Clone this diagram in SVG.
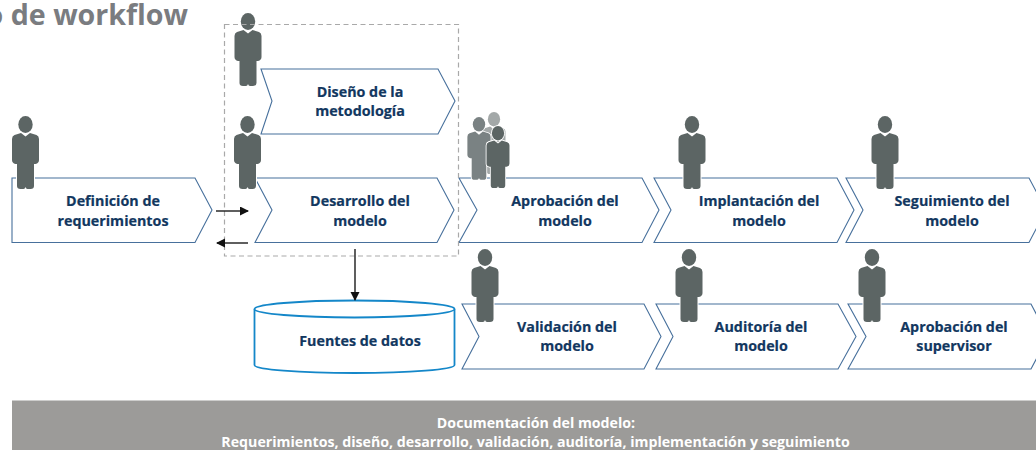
<svg xmlns="http://www.w3.org/2000/svg" xmlns:xlink="http://www.w3.org/1999/xlink" width="1036" height="450" viewBox="0 0 1036 450">
<style>
text{font-family:"Open Sans","Noto Sans","Liberation Sans",sans-serif;font-weight:700}
.l{font-size:14.300px;fill:#12375f;text-anchor:middle;stroke:#12375f;stroke-width:.2}
.c{fill:#fff;stroke:#47709c;stroke-width:1.100}
.p{stroke:#fff;stroke-width:2;paint-order:stroke}
.a{stroke:#1a1a1a;stroke-width:1.400;fill:none}
.b{font-size:14.200px;fill:#fff;text-anchor:middle}
</style>
<defs>
<g id="person">
<ellipse cx="0" cy="8.500" rx="7.200" ry="8.500"/>
<path d="M-4.500,17 L0,20.500 L4.500,17 L11,19 Q13.500,20 13.500,23 L13.500,44 Q13.500,47 10,48 L8.500,48 L8.500,70 Q8.500,73 5,73 L2,73 Q0.500,73 0,71 Q-0.500,73 -2,73 L-5,73 Q-8.500,73 -8.500,70 L-8.500,48 L-10,48 Q-13.500,47 -13.500,44 L-13.500,23 Q-13.500,20 -11,19 Z"/>
</g>
<marker id="ah" markerWidth="10" markerHeight="10" refX="8" refY="4.500" orient="auto" markerUnits="userSpaceOnUse"><path d="M0,0 L9,4.500 L0,9 Z" fill="#111"/></marker>
</defs>
<rect width="1036" height="450" fill="#fff"/>
<text x="188" y="24.500" text-anchor="end" font-size="28.600" fill="#7a7c80">o de workflow</text>

<g id="node-definicion"><path class="c" d="M12,178 H195 L212,210 L195,242.500 H12 Z"/><text class="l" x="113" y="206">Definición de</text><text class="l" x="113" y="226">requerimientos</text></g>
<g id="node-diseno"><path class="c" d="M261,69 H438 L455,101 L438,134 H261 L272,101 Z"/><text class="l" x="360" y="97">Diseño de la</text><text class="l" x="360" y="116">metodología</text></g>
<g id="node-desarrollo"><path class="c" d="M255,178 H437 L454,210 L437,242.500 H255 L272,210 Z"/><text class="l" x="360" y="206">Desarrollo del</text><text class="l" x="360" y="226">modelo</text></g>
<g id="node-aprobacion"><path class="c" d="M459,178 H642 L659,210 L642,242.500 H459 L477,210 Z"/><text class="l" x="565" y="206">Aprobación del</text><text class="l" x="565" y="226">modelo</text></g>
<g id="node-implantacion"><path class="c" d="M654,178 H837 L854,210 L837,242.500 H654 L671,210 Z"/><text class="l" x="759" y="206">Implantación del</text><text class="l" x="759" y="226">modelo</text></g>
<g id="node-seguimiento"><path class="c" d="M846,178 H1029 L1046,210 L1029,242.500 H846 L863,210 Z"/><text class="l" x="952" y="206">Seguimiento del</text><text class="l" x="952" y="226">modelo</text></g>
<g id="node-validacion"><path class="c" d="M462,304 H644 L661,336.500 L644,369 H462 L479,336.500 Z"/><text class="l" x="567" y="332">Validación del</text><text class="l" x="567" y="351">modelo</text></g>
<g id="node-auditoria"><path class="c" d="M656,304 H838 L856,336.500 L838,369 H656 L673,336.500 Z"/><text class="l" x="761" y="332">Auditoría del</text><text class="l" x="761" y="351">modelo</text></g>
<g id="node-supervisor"><path class="c" d="M848,304 H1031 L1048,336.500 L1031,369 H848 L866,336.500 Z"/><text class="l" x="954" y="332">Aprobación del</text><text class="l" x="954" y="351">supervisor</text></g>

<g id="node-fuentes">
<path d="M254.500,309 V365 C254.500,369.500 299,373 354.500,373 C410,373 454.500,369.500 454.500,365 V309" fill="#fff" stroke="#1487c9" stroke-width="1.800"/>
<ellipse cx="354.500" cy="309" rx="100" ry="8.500" fill="#fff" stroke="#1487c9" stroke-width="1.800"/>
<text class="l" x="360" y="346">Fuentes de datos</text>
</g>

<g id="persons" fill="#5c6564">
<use class="p" xlink:href="#person" href="#person" transform="translate(25.500,116)"/>
<use class="p" xlink:href="#person" href="#person" transform="translate(248,13)"/>
<use class="p" xlink:href="#person" href="#person" transform="translate(247.500,116)"/>
<use class="p" xlink:href="#person" href="#person" transform="translate(692,116)"/>
<use class="p" xlink:href="#person" href="#person" transform="translate(885,116)"/>
<use class="p" xlink:href="#person" href="#person" transform="translate(485,249)"/>
<use class="p" xlink:href="#person" href="#person" transform="translate(689,249)"/>
<use class="p" xlink:href="#person" href="#person" transform="translate(872,249)"/>
<use class="p" xlink:href="#person" href="#person" transform="translate(494,112) scale(.85)" fill="#a3a8a8"/>
<use class="p" xlink:href="#person" href="#person" transform="translate(479,117) scale(.86)" fill="#7a8283"/>
<use class="p" xlink:href="#person" href="#person" transform="translate(498,126) scale(.85)"/>
</g>

<g id="connectors">
<rect x="224.500" y="24.500" width="234" height="231.500" fill="none" stroke="#a9a9a9" stroke-width="1.200" stroke-dasharray="5 3.500"/>
<path class="a" d="M216,211 H248" marker-end="url(#ah)"/>
<path class="a" d="M248,243 H217" marker-end="url(#ah)"/>
<path class="a" d="M355,249 V300" marker-end="url(#ah)"/>
</g>

<g id="node-documentacion">
<rect x="12" y="400.500" width="1024" height="49.500" fill="#9c9b99"/>
<text class="b" x="536" y="428">Documentación del modelo:</text>
<text class="b" x="535.500" y="446.500">Requerimientos, diseño, desarrollo, validación, auditoría, implementación y seguimiento</text>
</g>
</svg>
